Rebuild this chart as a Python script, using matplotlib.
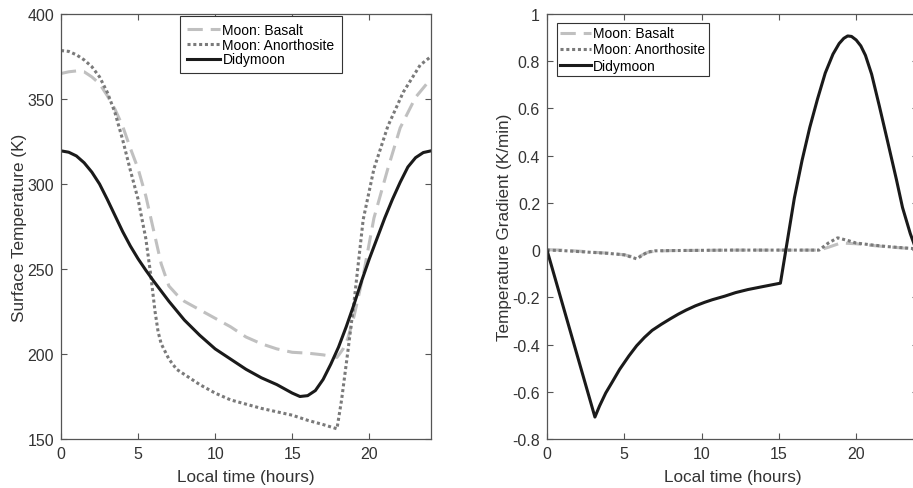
import numpy as np
import matplotlib.pyplot as plt

plt.rcParams['font.family'] = ['Liberation Sans', 'DejaVu Sans']

# ---- left panel: surface temperature (K) vs local time (h)
t_basalt = [0, 0.5, 1, 1.5, 2, 2.5, 3, 3.5, 4, 4.5, 5, 5.5, 6, 6.5, 7, 7.5, 8, 9, 10, 11,
            12, 13, 14, 15, 16, 17, 17.9, 18.3, 18.6, 19, 19.6, 20.3, 21.2, 22, 23, 24]
T_basalt = [365, 366, 366.5, 366, 363, 359, 352, 344, 334, 321, 309, 293, 273, 253, 240,
            235, 231, 226, 221, 216, 210, 206, 203, 201, 200.5, 199.5, 198, 203, 209, 222,
            246, 280, 309, 333, 351, 362]

t_anor = [0, 0.5, 1, 1.5, 2, 2.5, 3, 3.5, 4, 4.5, 5, 5.5, 5.8, 6.1, 6.3, 6.5, 7, 7.5, 8,
          9, 10, 11, 12, 13, 14, 15, 16, 17, 17.9, 18.2, 18.6, 19, 19.6, 20.3, 21.2, 22.2,
          23.3, 24]
T_anor = [378.5, 378, 376, 373, 369, 363, 354, 342, 326, 308, 291, 268, 248, 225, 213, 206,
          197, 191, 188, 182, 177, 173, 170.5, 168, 166, 164, 161, 158.5, 156, 173, 201,
          230, 279, 309, 334, 354, 370, 375]

t_didy = [0, 0.5, 1, 1.5, 2, 2.5, 3, 3.5, 4, 4.5, 5, 5.5, 6, 6.5, 7, 8, 9, 10, 11, 12, 13,
          14, 15, 15.5, 16, 16.5, 17, 17.5, 18, 18.5, 19, 19.5, 20, 20.5, 21, 21.5, 22,
          22.5, 23, 23.5, 24]
T_didy = [319.5, 318.7, 316.5, 312.5, 307, 300, 291, 281.5, 272, 263.5, 256, 249.3, 243,
          237, 231, 220, 211, 203, 197, 191, 186, 182, 177, 175, 175.5, 178.5, 185, 194,
          204, 216, 229, 243, 256, 268, 280, 291, 301, 310, 315.5, 318.5, 319.5]

# ---- right panel: temperature gradient (K/min)
g_t_basalt = [0, 1, 2, 3, 4, 5, 5.8, 6.5, 7, 8, 10, 12, 15, 17.6, 18.2, 19, 20, 21, 22, 23, 24]
g_basalt = [0.002, 0.0, -0.004, -0.009, -0.013, -0.02, -0.032, -0.01, -0.004, -0.002, -0.001,
            0, 0, 0, 0.012, 0.03, 0.027, 0.02, 0.014, 0.009, 0.005]

g_t_anor = [0, 1, 2, 3, 4, 5, 5.8, 6.5, 7, 8, 10, 12, 15, 17.6, 18.2, 18.8, 19.5, 20, 21, 22,
            23, 24]
g_anor = [0.0, -0.002, -0.006, -0.01, -0.014, -0.02, -0.037, -0.008, -0.003, -0.002, -0.001,
          0, 0, 0, 0.03, 0.052, 0.04, 0.03, 0.022, 0.015, 0.01, 0.005]

g_t_didy = [0, 3.1, 3.4, 3.8, 4.2, 4.7, 5.3, 5.8, 6.3, 6.8, 7.4, 8, 8.5, 9, 9.6, 10.2, 10.7,
            11.5, 12.2, 13, 14, 15.1, 15.5, 16, 16.5, 17, 17.5, 18, 18.5, 18.9, 19.2, 19.45,
            19.7, 20, 20.3, 20.6, 21, 21.5, 22, 22.6, 23, 23.5, 24]
g_didy = [0.0, -0.707, -0.66, -0.605, -0.561, -0.505, -0.448, -0.405, -0.37, -0.34, -0.314,
          -0.29, -0.271, -0.254, -0.236, -0.221, -0.21, -0.195, -0.18, -0.167, -0.154, -0.14,
          0.02, 0.22, 0.38, 0.52, 0.64, 0.75, 0.83, 0.875, 0.897, 0.907, 0.905, 0.89, 0.865,
          0.825, 0.745, 0.61, 0.47, 0.30, 0.18, 0.07, -0.02]

labels = ['Moon: Basalt', 'Moon: Anorthosite', 'Didymoon']
xticks = [0, 5, 10, 15, 20]
yticks_T = [150, 200, 250, 300, 350, 400]
yticks_g = [-0.8, -0.6, -0.4, -0.2, 0, 0.2, 0.4, 0.6, 0.8, 1]
ytick_g_labels = ['-0.8', '-0.6', '-0.4', '-0.2', '0', '0.2', '0.4', '0.6', '0.8', '1']

c_bas = '#c0c0c0'
c_ano = '#7a7a7a'
c_did = '#1a1a1a'
axcol = '#555555'
txtcol = '#333333'

fig = plt.figure(figsize=(9.13, 4.89), dpi=100)
ax1 = fig.add_axes([61 / 913, 49 / 489, 370 / 913, 425 / 489])
ax2 = fig.add_axes([547 / 913, 49 / 489, 371 / 913, 425 / 489])


def style(ax):
    for s in ax.spines.values():
        s.set_color(axcol)
        s.set_linewidth(0.9)
    ax.tick_params(direction='in', top=True, right=True, length=4, width=0.8,
                   colors=axcol, labelcolor=txtcol, labelsize=11.5, pad=5)
    ax.set_xlim(0, 24)
    ax.set_xticks(xticks)
    ax.set_xlabel('Local time (hours)', fontsize=12.3, color=txtcol, labelpad=6)


ax1.plot(t_basalt, T_basalt, color=c_bas, lw=2.2, dashes=(5, 2.6), label=labels[0])
ax1.plot(t_anor, T_anor, color=c_ano, lw=2.2, dashes=(1, 0.9), label=labels[1])
ax1.plot(t_didy, T_didy, color=c_did, lw=2.2, label=labels[2])
style(ax1)
ax1.set_ylim(150, 400)
ax1.set_yticks(yticks_T)
ax1.set_ylabel('Surface Temperature (K)', fontsize=12.3, color=txtcol, labelpad=0)
leg1 = ax1.legend(loc='upper center', bbox_to_anchor=(0.54, 0.995), fontsize=10,
                  frameon=True, fancybox=False, framealpha=1, edgecolor='#333333',
                  handlelength=2.4, handletextpad=0.15, borderpad=0.5,
                  labelspacing=0.05, borderaxespad=0)
leg1.get_frame().set_linewidth(0.8)

ax2.plot(g_t_basalt, g_basalt, color=c_bas, lw=2.2, dashes=(5, 2.6), label=labels[0])
ax2.plot(g_t_anor, g_anor, color=c_ano, lw=2.2, dashes=(1, 0.9), label=labels[1])
ax2.plot(g_t_didy, g_didy, color=c_did, lw=2.2, label=labels[2])
style(ax2)
ax2.set_ylim(-0.8, 1)
ax2.set_yticks(yticks_g)
ax2.set_yticklabels(ytick_g_labels)
ax2.set_ylabel('Temperature Gradient (K/min)', fontsize=12.3, color=txtcol, labelpad=0)
leg2 = ax2.legend(loc='upper left', bbox_to_anchor=(0.027, 0.979), fontsize=10,
                  frameon=True, fancybox=False, framealpha=1, edgecolor='#333333',
                  handlelength=2.2, handletextpad=0.15, borderpad=0.25,
                  labelspacing=0.15, borderaxespad=0)
leg2.get_frame().set_linewidth(0.8)

fig.savefig('out.png', dpi=100)
